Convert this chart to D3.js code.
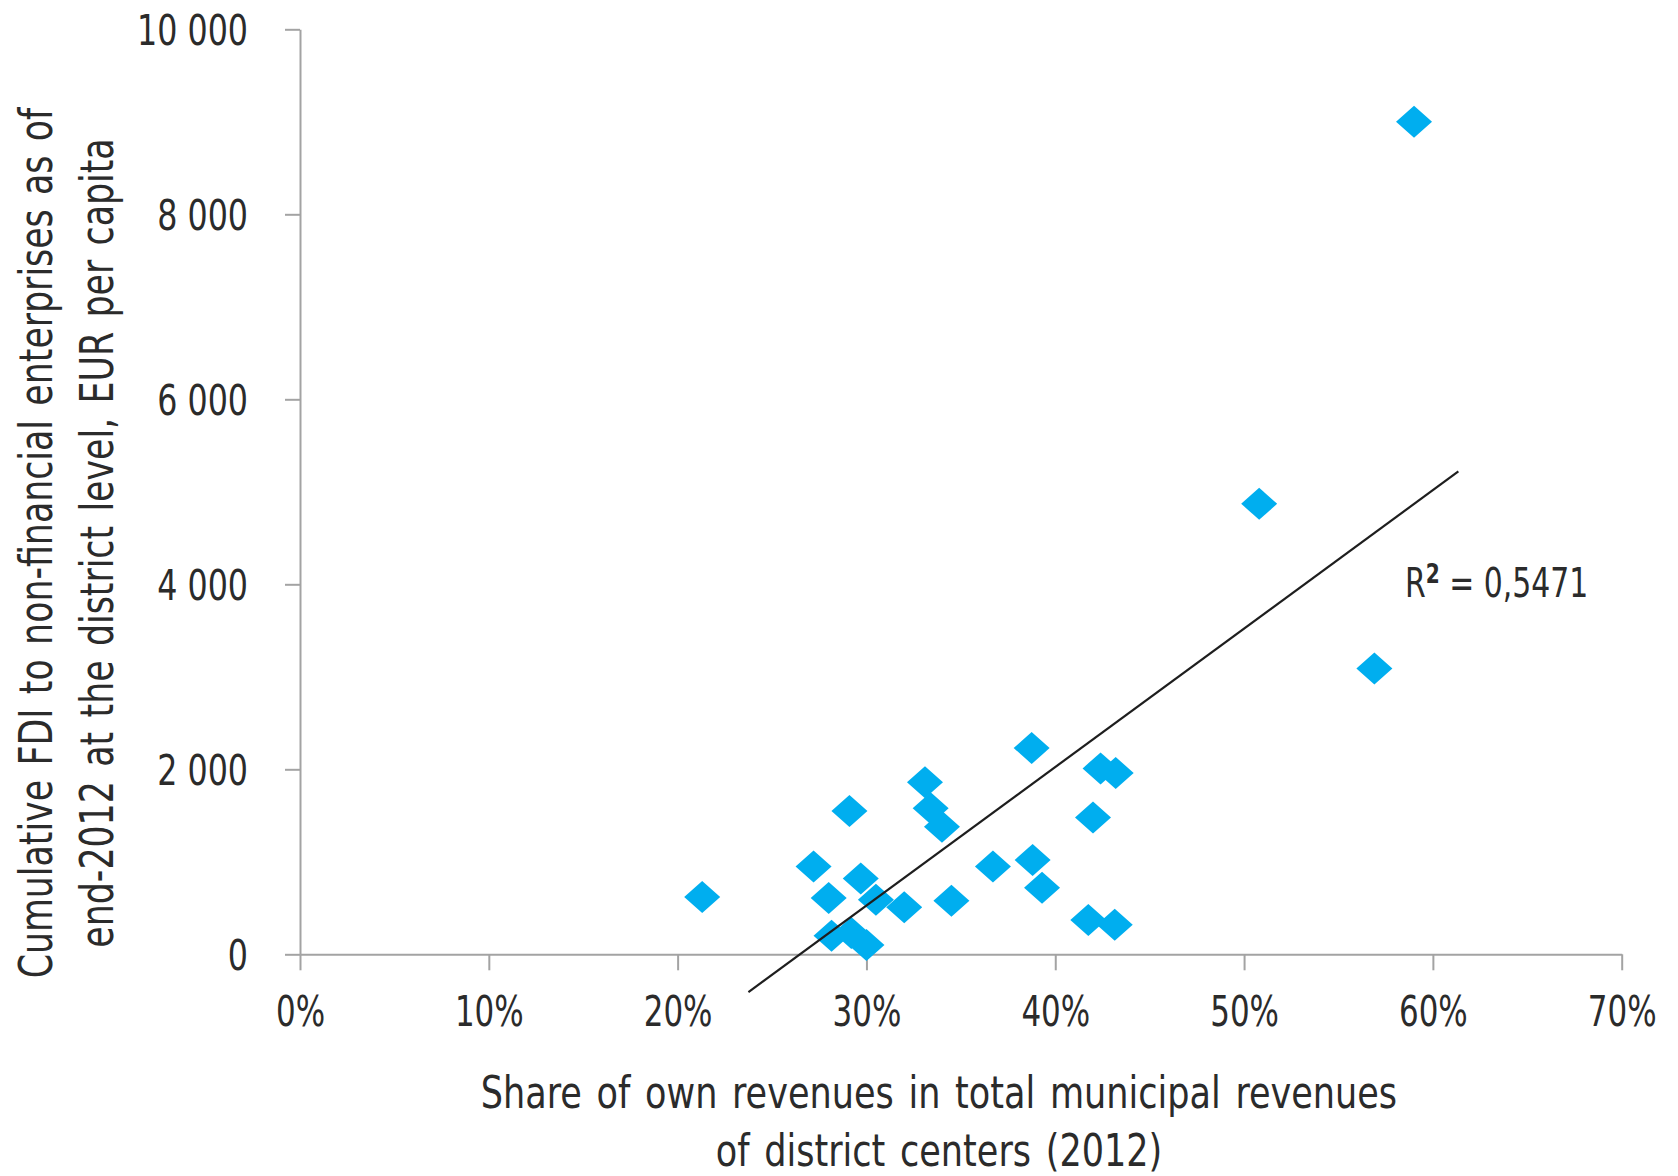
<!DOCTYPE html>
<html><head><meta charset="utf-8">
<script src="https://cdn.jsdelivr.net/npm/d3@7"></script>
<style>
html,body{margin:0;padding:0;background:#fff;}
svg{display:block;}
text{font-family:"Liberation Sans Narrow","DejaVu Sans Condensed","Open Sans",sans-serif;fill:#2b2b2b;}
</style></head><body>
<svg id="chart" width="1678" height="1176"></svg>
<script>
// Data (share of own revenues, %; cumulative FDI, EUR per capita)
const shareOwnRevenues = [21.3, 27.2, 28.0, 28.15, 29.1, 29.2, 29.7, 30.0, 30.5, 32.0, 33.1, 33.4, 34.0, 34.5, 36.7, 38.75, 38.8, 39.3, 41.75, 42.0, 42.4, 43.2, 43.15, 50.8, 56.9, 59.0];
const fdiPerCapita     = [620, 950, 610, 200, 1550, 230, 820, 100, 590, 510, 1860, 1580, 1380, 580, 950, 2230, 1020, 720, 370, 1480, 2010, 1960, 320, 4870, 3090, 9000];
const xTickValues = [0, 10, 20, 30, 40, 50, 60, 70];
const yTickValues = [0, 2000, 4000, 6000, 8000, 10000];
const trendRange = [23.75, 61.35];
const r2Value = "0,5471";
const xTitleLines = ["Share of own revenues in total municipal revenues", "of district centers (2012)"];
const yTitleLines = ["Cumulative FDI to non-financial enterprises as of", "end-2012 at the district level, EUR per capita"];

const svg = d3.select("#chart");
const x = d3.scaleLinear().domain([0, 70]).range([300, 1621.7]);
const y = d3.scaleLinear().domain([0, 10000]).range([954.3, 29.3]);
const axisColor = "#a3a3a3";
const fmtY = v => d3.format(",")(v).replace(/,/g, " ");
const narrow = 0.82;

// Y axis
const yAxis = svg.append("g").attr("transform", `translate(${x(0)},0)`)
  .call(d3.axisLeft(y).tickValues(yTickValues).tickSize(15).tickSizeOuter(0).tickFormat(fmtY).tickPadding(37));
yAxis.attr("font-family", null).attr("font-size", null);
yAxis.select(".domain").attr("stroke", axisColor).attr("stroke-width", 2);
yAxis.selectAll(".tick line").attr("stroke", axisColor).attr("stroke-width", 2);
yAxis.selectAll(".tick text").each(function () {
  const t = d3.select(this);
  const x0 = +t.attr("x");
  t.attr("x", 0).attr("transform", `translate(${x0},0) scale(${narrow},1)`);
}).attr("font-size", 43).attr("fill", "#2b2b2b").attr("dy", "0.36em");

// X axis
const xAxis = svg.append("g").attr("transform", `translate(0,${y(0)})`)
  .call(d3.axisBottom(x).tickValues(xTickValues).tickSize(16).tickSizeOuter(0).tickFormat(d => d + "%").tickPadding(25));
xAxis.attr("font-family", null).attr("font-size", null);
xAxis.select(".domain").attr("stroke", axisColor).attr("stroke-width", 2);
xAxis.selectAll(".tick line").attr("stroke", axisColor).attr("stroke-width", 2);
xAxis.selectAll(".tick text").attr("transform", `scale(0.8,1)`)
  .attr("font-size", 43).attr("fill", "#2b2b2b").attr("dy", "0.71em");

// Points (diamonds)
const pts = shareOwnRevenues.map((s, i) => ({ s, v: fdiPerCapita[i] }));
const hw = 18, hh = 16;
svg.append("g").selectAll("path").data(pts).join("path")
  .attr("d", `M0,${-hh}L${hw},0L0,${hh}L${-hw},0Z`)
  .attr("transform", d => `translate(${x(d.s)},${y(d.v)})`)
  .attr("fill", "#00aeef");

// Linear trend (least squares)
const mx = d3.mean(shareOwnRevenues), my = d3.mean(fdiPerCapita);
let sxy = 0, sxx = 0;
pts.forEach(p => { sxy += (p.s - mx) * (p.v - my); sxx += (p.s - mx) ** 2; });
const slope = sxy / sxx, icpt = my - slope * mx;
svg.append("line")
  .attr("x1", x(trendRange[0])).attr("y1", y(slope * trendRange[0] + icpt))
  .attr("x2", x(trendRange[1])).attr("y2", y(slope * trendRange[1] + icpt))
  .attr("stroke", "#1e1e1e").attr("stroke-width", 2.2);

// R² label
const r2 = svg.append("g").attr("transform", "translate(1405,597) scale(0.83,1)")
  .append("text").attr("x", 0).attr("y", 0).attr("font-size", 40);
r2.append("tspan").text("R");
r2.append("tspan").attr("font-size", 27).attr("dy", -14).attr("font-weight", "bold").text("2");
r2.append("tspan").attr("dy", 14).text(" = " + r2Value);

// X title
svg.append("g").attr("transform", "translate(939,0) scale(0.886,1)")
  .selectAll("text").data(xTitleLines).join("text")
  .attr("x", 0).attr("y", (d, i) => 1108 + i * 58)
  .attr("text-anchor", "middle").attr("font-size", 44).attr("word-spacing", 4)
  .text(d => d);

// Y title
svg.append("g").attr("transform", "translate(0,543) rotate(-90) scale(0.84,1)")
  .selectAll("text").data(yTitleLines).join("text")
  .attr("x", 0).attr("y", (d, i) => 52 + i * 61)
  .attr("text-anchor", "middle").attr("font-size", 46).attr("word-spacing", 4)
  .text(d => d);
</script>
</body></html>
